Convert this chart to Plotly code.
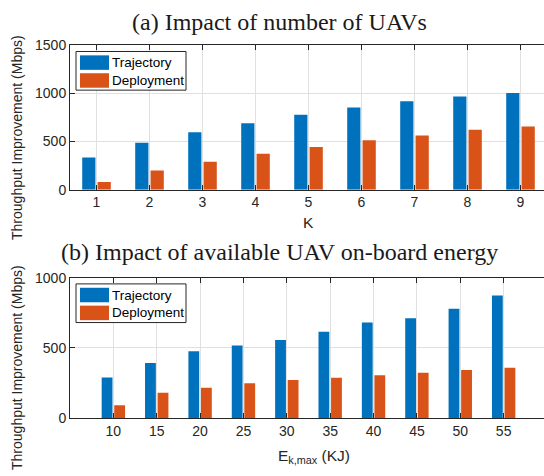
import plotly.graph_objects as go

# ---- data -------------------------------------------------------------
uav_count = [1, 2, 3, 4, 5, 6, 7, 8, 9]
traj_by_k = [333, 487, 597, 690, 777, 853, 917, 968, 1004]
depl_by_k = [80, 200, 290, 373, 443, 513, 563, 623, 657]

energy_kj = [10, 15, 20, 25, 30, 35, 40, 45, 50, 55]
traj_by_e = [289, 392, 476, 517, 556, 615, 681, 711, 778, 872]
depl_by_e = [91, 180, 216, 248, 271, 287, 305, 323, 342, 358]

series_names = ["Trajectory", "Deployment"]
series_colors = ["#0072BD", "#D95319"]

# ---- page geometry (pixels) -------------------------------------------
W, H = 544, 476
AX_LEFT = 70
AX_RIGHT_FULL = 547          # box extends slightly past the page edge
TOP_AX = (38.5, 188.0)       # (top, bottom) of panel (a)
BOT_AX = (279.0, 424.3)      # (top, bottom) of panel (b)


def px_x(x):
    return x / W


def px_y(y):
    return 1 - y / H


def visible_range(lo, hi):
    """Axis range clipped to the page edge so the tick spacing stays the same."""
    span = AX_RIGHT_FULL - AX_LEFT
    return [lo, lo + (hi - lo) * (W - AX_LEFT) / span]


INK = "#262626"
GRID = "#e0e0e0"
SANS = "Liberation Sans"
SERIF = "Liberation Serif"

fig = go.Figure()

for name, color, vals in zip(series_names, series_colors, [traj_by_k, depl_by_k]):
    fig.add_trace(go.Bar(x=uav_count, y=vals, name=name, marker_color=color,
                         marker_line_width=0, xaxis="x", yaxis="y",
                         showlegend=False))
for name, color, vals in zip(series_names, series_colors, [traj_by_e, depl_by_e]):
    fig.add_trace(go.Bar(x=energy_kj, y=vals, name=name, marker_color=color,
                         marker_line_width=0, xaxis="x2", yaxis="y2",
                         showlegend=False))

axis_common = dict(
    showline=True, linecolor=INK, linewidth=1,
    ticks="inside", ticklen=5, tickcolor=INK, tickwidth=1,
    showgrid=True, gridcolor=GRID, gridwidth=1, zeroline=False,
    tickfont=dict(family=SANS, size=14, color=INK),
)

fig.update_layout(
    width=W, height=H,
    margin=dict(l=0, r=0, t=0, b=0),
    paper_bgcolor="white", plot_bgcolor="white",
    barmode="group", bargap=0.42, bargroupgap=0.14,
    xaxis=dict(domain=[px_x(AX_LEFT), 1], anchor="y",
               range=visible_range(0.5, 9.5),
               tickvals=uav_count, mirror="ticks", **axis_common),
    yaxis=dict(domain=[px_y(TOP_AX[1]), px_y(TOP_AX[0])], anchor="x",
               range=[0, 1500], dtick=500, mirror=False, **axis_common),
    xaxis2=dict(domain=[px_x(AX_LEFT), 1], anchor="y2",
                range=visible_range(5, 60),
                tickvals=energy_kj, mirror="ticks", **axis_common),
    yaxis2=dict(domain=[px_y(BOT_AX[1]), px_y(BOT_AX[0])], anchor="x2",
                range=[0, 1000], dtick=500, mirror=False, **axis_common),
)

annotations = []
shapes = []

# panel titles
for text, ymid in [("(a) Impact of number of UAVs", 15),
                   ("(b) Impact of available UAV on-board energy", 252)]:
    annotations.append(dict(text=text, x=px_x(279), y=px_y(ymid),
                            xref="paper", yref="paper", xanchor="center",
                            yanchor="middle", showarrow=False,
                            font=dict(family=SERIF, size=24, color="#1a1a1a")))

# y-axis titles
for ycen in [134.5, 372.5]:
    annotations.append(dict(text="Throughput Improvement (Mbps)", textangle=-90,
                            x=px_x(17), y=px_y(ycen), xref="paper", yref="paper",
                            xanchor="center", yanchor="middle", showarrow=False,
                            font=dict(family=SANS, size=14, color=INK)))

# x-axis titles
annotations.append(dict(text="K", x=px_x(308), y=px_y(211), xref="paper",
                        yref="paper", xanchor="center", yanchor="top",
                        showarrow=False,
                        font=dict(family=SANS, size=15.5, color=INK)))
annotations.append(dict(text="E<sub>k,max</sub> (KJ)", x=px_x(314), y=px_y(452),
                        xref="paper", yref="paper", xanchor="center",
                        yanchor="top", showarrow=False,
                        font=dict(family=SANS, size=15.5, color=INK)))

# boxed legends in the upper-left corner of each panel
for ax_top in [TOP_AX[0], BOT_AX[0]]:
    bx0, bx1 = 76, 186
    by0 = ax_top + 6.5
    by1 = by0 + 40
    shapes.append(dict(type="rect", xref="paper", yref="paper",
                       x0=px_x(bx0), x1=px_x(bx1), y0=px_y(by1), y1=px_y(by0),
                       line=dict(color=INK, width=1), fillcolor="white",
                       layer="above"))
    for i, (name, color) in enumerate(zip(series_names, series_colors)):
        sy0 = by0 + 4 + i * 18.5
        sy1 = sy0 + 15
        shapes.append(dict(type="rect", xref="paper", yref="paper",
                           x0=px_x(80), x1=px_x(109), y0=px_y(sy1), y1=px_y(sy0),
                           line=dict(width=0), fillcolor=color, layer="above"))
        annotations.append(dict(text=name, x=px_x(110), y=px_y((sy0 + sy1) / 2),
                                xref="paper", yref="paper", xanchor="left",
                                yanchor="middle", showarrow=False,
                                font=dict(family=SANS, size=13.5, color="black")))

fig.update_layout(annotations=annotations, shapes=shapes)

fig.write_html("out.html")
